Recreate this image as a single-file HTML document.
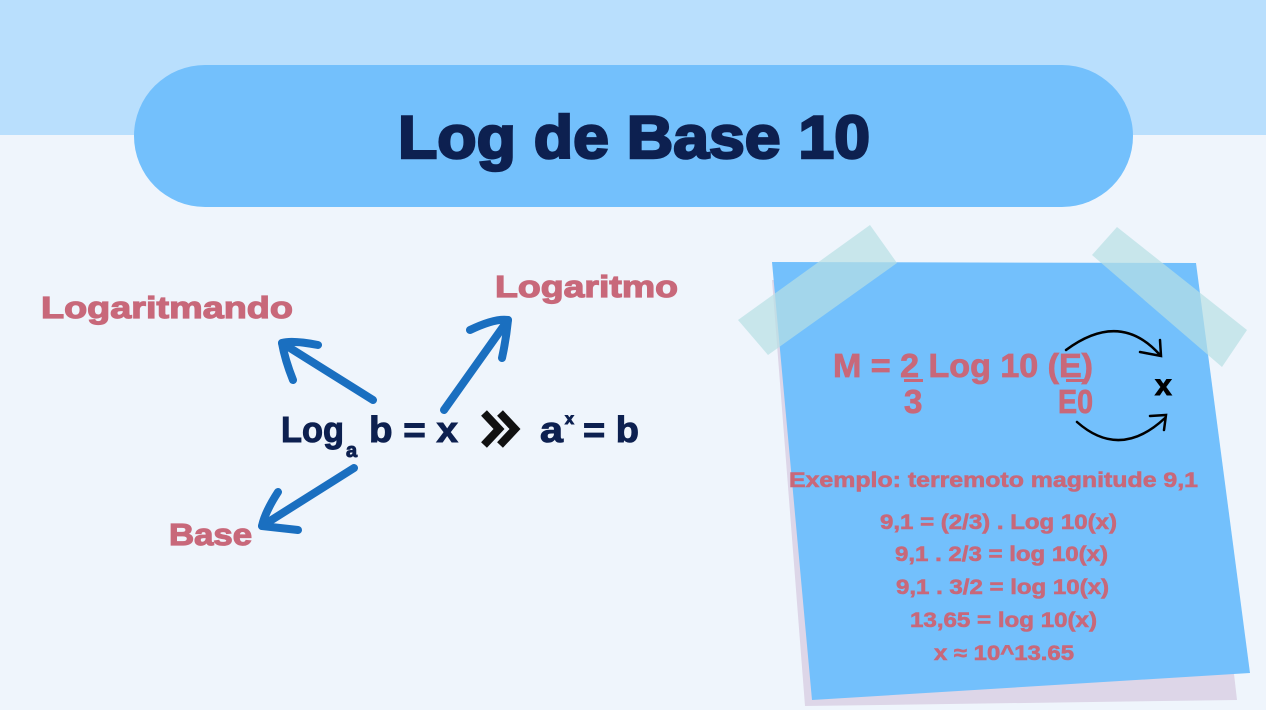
<!DOCTYPE html>
<html><head><meta charset="utf-8"><style>
html,body{margin:0;padding:0;background:#eff5fc;}
svg{display:block}
text{font-family:"Liberation Sans",sans-serif;font-weight:bold}
</style></head><body>
<svg width="1266" height="710" viewBox="0 0 1266 710" xmlns="http://www.w3.org/2000/svg">
<rect x="0" y="0" width="1266" height="710" fill="#eff5fc"/>
<rect x="0" y="0" width="1266" height="135" fill="#b9dffd"/>
<rect x="134" y="65" width="999" height="142" rx="71" fill="#73c0fc"/>
<text x="398" y="158" font-size="60" fill="#0d2050" stroke="#0d2050" stroke-width="2.5" textLength="472" lengthAdjust="spacingAndGlyphs">Log de Base 10</text>

<!-- left labels -->
<g fill="#c8687a" stroke="#c8687a" stroke-width="1.2">
<text x="41" y="318" font-size="31" textLength="252" lengthAdjust="spacingAndGlyphs">Logaritmando</text>
<text x="495" y="297" font-size="31" textLength="183" lengthAdjust="spacingAndGlyphs">Logaritmo</text>
<text x="169" y="545" font-size="31" textLength="83" lengthAdjust="spacingAndGlyphs">Base</text>
</g>

<!-- formula -->
<g fill="#0d2050" stroke="#0d2050" stroke-width="1">
<text x="281" y="442" font-size="36" textLength="63" lengthAdjust="spacingAndGlyphs">Log</text>
<text x="346" y="457" font-size="20">a</text>
<text x="369" y="442" font-size="36" textLength="89" lengthAdjust="spacingAndGlyphs">b = x</text>
<text x="540" y="442" font-size="36" textLength="23" lengthAdjust="spacingAndGlyphs">a</text>
<text x="565" y="424" font-size="16">x</text>
<text x="583" y="442" font-size="36" textLength="56" lengthAdjust="spacingAndGlyphs">= b</text>
</g>
<path d="M484 413 L499 429 L484 445 M500 413 L515 429 L500 445" stroke="#111" stroke-width="8" fill="none"/>

<!-- arrows -->
<g stroke="#1a6fc0" stroke-width="8" stroke-linecap="round" fill="none" stroke-linejoin="round">
<path d="M373 400 L282 343"/>
<path d="M318 345 Q292 340 282 343 Q285 360 293 380"/>
<path d="M444 410 L508 320"/>
<path d="M470 330 Q495 318 508 320 Q506 340 502 358"/>
<path d="M354 468 L262 526"/>
<path d="M278 492 Q265 512 262 526 Q280 528 298 530"/>
</g>

<!-- sticky note -->
<polygon points="772,280 1190,290 1237,700 805,706" fill="#ddd6e8"/>
<polygon points="772,262 1196,263 1250,673 812,700" fill="#73c0fc"/>
<polygon points="738,320 870,225 897,263 768,355" fill="#b8e0e4" opacity="0.7"/>
<polygon points="1092,255 1117,227 1247,330 1222,367" fill="#b8e0e4" opacity="0.7"/>

<g fill="#c8687a" stroke="#c8687a" stroke-width="0.8">
<text x="833" y="377" font-size="33" textLength="260" lengthAdjust="spacingAndGlyphs">M = 2 Log 10 (E)</text>
<text x="904" y="413" font-size="33">3</text>
<text x="1058" y="413" font-size="33" textLength="35" lengthAdjust="spacingAndGlyphs">E0</text>
</g>
<rect x="904" y="379" width="19" height="3" fill="#c8687a"/>
<rect x="1066" y="379" width="18" height="3" fill="#c8687a"/>
<text x="1155" y="395" font-size="30" fill="#000" stroke="#000" stroke-width="1">x</text>
<g stroke="#000" stroke-width="2.5" fill="none" stroke-linecap="round">
<path d="M1066 350 Q1120 310 1160 355"/>
<path d="M1140 352 L1161 356 L1160 340"/>
<path d="M1077 422 Q1120 460 1165 418"/>
<path d="M1150 416 L1166 415 L1164 430"/>
</g>
<g fill="#c8687a" stroke="#c8687a" stroke-width="0.6" font-size="21">
<text x="789" y="487" textLength="409" lengthAdjust="spacingAndGlyphs">Exemplo: terremoto magnitude 9,1</text>
<text x="880" y="529" textLength="237" lengthAdjust="spacingAndGlyphs">9,1 = (2/3) . Log 10(x)</text>
<text x="895" y="561" textLength="213" lengthAdjust="spacingAndGlyphs">9,1 . 2/3 = log 10(x)</text>
<text x="896" y="594" textLength="213" lengthAdjust="spacingAndGlyphs">9,1 . 3/2 = log 10(x)</text>
<text x="910" y="627" textLength="187" lengthAdjust="spacingAndGlyphs">13,65 = log 10(x)</text>
<text x="934" y="660" textLength="140" lengthAdjust="spacingAndGlyphs">x ≈ 10^13.65</text>
</g>
</svg>
</body></html>
